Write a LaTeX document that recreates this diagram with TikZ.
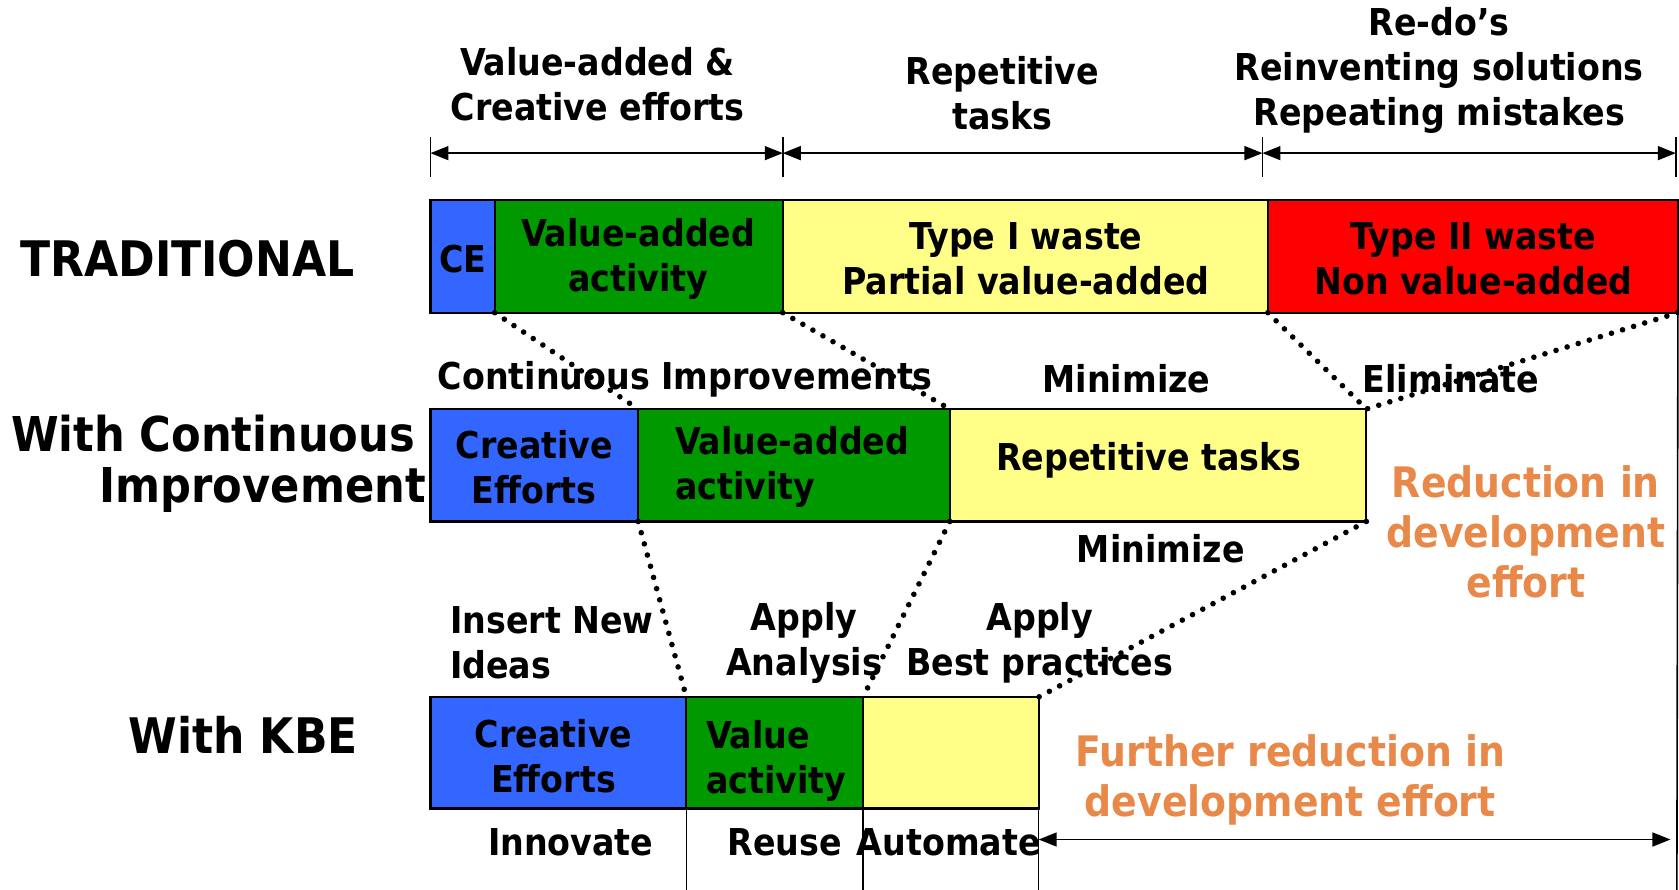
\documentclass[tikz,border=0pt]{standalone}
\usepackage{fontspec}
\setmainfont{DejaVu Sans Condensed}
\usetikzlibrary{arrows.meta,fit}
\definecolor{cblue}{RGB}{51,102,255}
\definecolor{cgreen}{RGB}{0,153,0}
\definecolor{cyellow}{RGB}{255,255,136}
\definecolor{cred}{RGB}{255,0,0}
\definecolor{corange}{RGB}{232,137,74}
\tikzset{
  box/.style={draw=black, line width=1.1pt, inner sep=0pt, outer sep=0pt},
  lbl/.style={font=\bfseries\fontsize{18.5}{22.5}\selectfont, align=center, inner sep=0pt},
  big/.style={font=\bfseries\fontsize{24.5}{28.5}\selectfont, inner sep=0pt},
  bigb/.style={font=\bfseries\fontsize{24}{28.5}\selectfont, inner sep=0pt},
  org/.style={font=\bfseries\fontsize{21}{25}\selectfont, text=corange, align=center, inner sep=0pt},
  dots/.style={line width=2.8pt, line cap=round, dash pattern=on 0pt off 5.8pt},
  dim/.style={line width=0.8pt},
  dimarrow/.style={dim, {Triangle[length=9pt,width=7pt]}-{Triangle[length=9pt,width=7pt]}},
}
\begin{document}
\begin{tikzpicture}[x=0.5354pt, y=-0.5354pt]
\useasboundingbox (0,0) rectangle (1568,831);

% ---- top dimension lines
\coordinate (d0) at (402,143);
\coordinate (d1) at (731,143);
\coordinate (d2) at (1179,143);
\coordinate (d3) at (1565,143);
\foreach \c in {d0,d1,d2,d3} {
  \draw[dim] ([yshift=8pt]\c) -- ([yshift=-12pt]\c);
}
\draw[dimarrow] (d0) -- (d1);
\draw[dimarrow] (d1) -- (d2);
\draw[dimarrow] (d2) -- (d3);

\node[lbl] (h1) at (558,79) {Value-added \&\\Creative efforts};
\node[lbl] (h2) at (936,87) {Repetitive\\tasks};
\node[lbl] (h3) at (1344,66) {Re-do’s\\Reinventing solutions\\Repeating mistakes};

% ---- row 1: traditional
\node[big] (r1) at (175,242) {TRADITIONAL};
\node[box, fill=cblue,   fit={(402,187)(462,292)}] (t1) {};
\node[box, fill=cgreen,  fit={(462,187)(731,292)}] (t2) {};
\node[box, fill=cyellow, fit={(731,187)(1184,292)}] (t3) {};
\node[box, fill=cred,    fit={(1184,187)(1567,292)}] (t4) {};
\node[lbl] (t1x) at (432,242) {CE};
\node[lbl] (t2x) at (596,242) {Value-added\\activity};
\node[lbl] (t3x) at (958,242) {Type I waste\\Partial value-added};
\node[lbl] (t4x) at (1376,242) {Type II waste\\Non value-added};

% ---- row 2: continuous improvement
\node[bigb, anchor=east] (r2a) at (388,405) {With Continuous};
\node[bigb, anchor=east] (r2b) at (398,458) {Improvement};
\node[box, fill=cblue,   fit={(402,382)(596,487)}] (c1) {};
\node[box, fill=cgreen,  fit={(596,382)(887,487)}] (c2) {};
\node[box, fill=cyellow, fit={(887,382)(1276,487)}] (c3) {};
\node[lbl] (c1x) at (499,436) {Creative\\Efforts};
\node[lbl, align=left, anchor=west] (c2x) at (630,436) {Value-added\\activity};
\node[lbl] (c3x) at (1073,430) {Repetitive tasks};

% ---- row 3: KBE
\node[big] (r3) at (227,686) {With KBE};
\node[box, fill=cblue,   fit={(402,651)(641,755)}] (k1) {};
\node[box, fill=cgreen,  fit={(641,651)(806,755)}] (k2) {};
\node[box, fill=cyellow, fit={(806,651)(970,755)}] (k3) {};
\node[lbl] (k1x) at (517,706) {Creative\\Efforts};
\node[lbl, align=left, anchor=west] (k2x) at (659,711) {Value\\activity};

% ---- dotted connectors
\draw[dots] (t1.south east) -- (c1.north east);
\draw[dots] (t2.south east) -- (c2.north east);
\draw[dots] (t3.south east) -- (c3.north east);
\draw[dots] (t4.south east) -- (c3.north east);
\draw[dots] (c1.south east) -- (k1.north east);
\draw[dots] (c2.south east) -- (k2.north east);
\draw[dots] (c3.south east) -- (k3.north east);

% ---- labels between rows
\node[lbl] (l1) at (640,354) {Continuous Improvements};
\node[lbl] (l2) at (1052,354) {Minimize};
\node[lbl] (l3) at (1355,354) {Eliminate};
\node[lbl] (l4) at (1084,512) {Minimize};
\node[lbl, align=left, anchor=west] (l5) at (420,600) {Insert New\\Ideas};
\node[lbl] (l6) at (751,600) {Apply\\Analysis};
\node[lbl] (l7) at (971,600) {Apply\\Best practices};

\node[org] (o1) at (1425,497) {Reduction in\\development\\effort};
\node[org] (o2) at (1205,728) {Further reduction in\\development effort};

% ---- bottom labels and lines
\coordinate (b1) at (641,831);
\coordinate (b2) at (806,831);
\coordinate (b3) at (970,831);
\coordinate (b4) at (1566,831);
\draw[dim] (k1.south east) -- (b1);
\draw[dim] (k2.south east) -- (b2);
\draw[dim] (k3.south east) -- (b3);
\draw[dim] (t4.south east) -- (b4);

\node[lbl] (n1) at (533,787) {Innovate};
\node[lbl] (n2) at (733,787) {Reuse};
\node[lbl] (n3) at (886,787) {Automate};

\coordinate (a1) at (970,784);
\coordinate (a2) at (1560,784);
\draw[dimarrow] (a1) -- (a2);
\end{tikzpicture}
\end{document}
